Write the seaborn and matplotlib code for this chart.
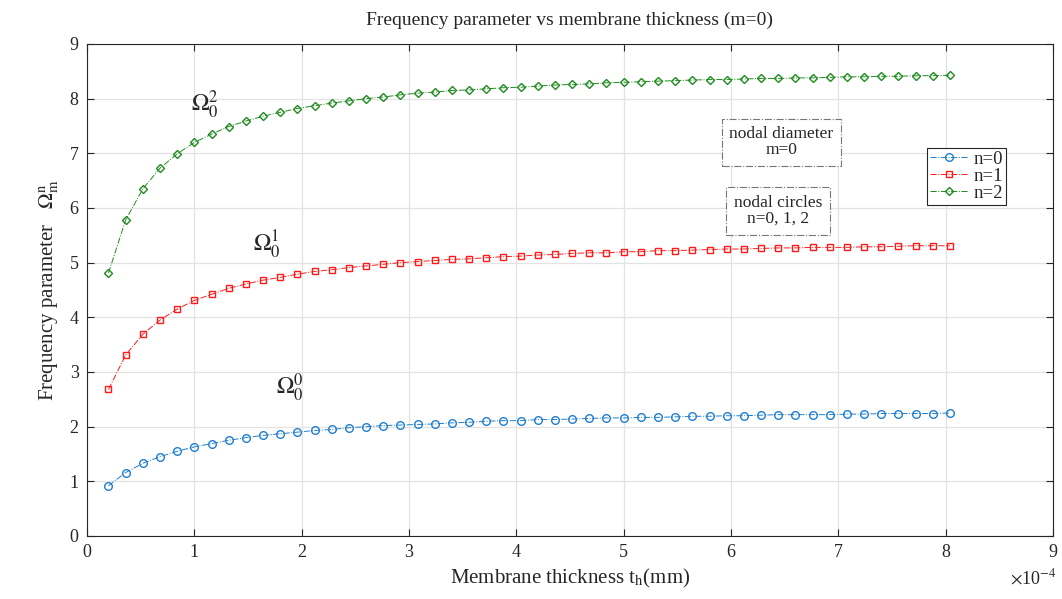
import numpy as np
import pandas as pd
import matplotlib
matplotlib.use("Agg")
import matplotlib.pyplot as plt
import seaborn as sns

# ---- data (thickness in units of 1e-4 mm) ----
thickness = [0.20, 0.36, 0.52, 0.68, 0.84, 1.00, 1.16, 1.32, 1.48, 1.64,
             1.80, 1.96, 2.12, 2.28, 2.44, 2.60, 2.76, 2.92, 3.08, 3.24,
             3.40, 3.56, 3.72, 3.88, 4.04, 4.20, 4.36, 4.52, 4.68, 4.84,
             5.00, 5.16, 5.32, 5.48, 5.64, 5.80, 5.96, 6.12, 6.28, 6.44,
             6.60, 6.76, 6.92, 7.08, 7.24, 7.40, 7.56, 7.72, 7.88, 8.04]

omega_n0 = [0.92, 1.16, 1.33, 1.45, 1.55, 1.63, 1.69, 1.75, 1.80, 1.84,
            1.87, 1.90, 1.93, 1.95, 1.98, 2.00, 2.02, 2.03, 2.04, 2.05,
            2.07, 2.08, 2.10, 2.11, 2.11, 2.13, 2.13, 2.14, 2.15, 2.16,
            2.16, 2.17, 2.17, 2.18, 2.19, 2.19, 2.20, 2.20, 2.21, 2.22,
            2.22, 2.22, 2.22, 2.23, 2.23, 2.24, 2.24, 2.24, 2.24, 2.25]

omega_n1 = [2.68, 3.31, 3.69, 3.95, 4.15, 4.31, 4.42, 4.53, 4.61, 4.68,
            4.73, 4.79, 4.84, 4.87, 4.91, 4.94, 4.97, 5.00, 5.02, 5.04,
            5.06, 5.07, 5.09, 5.11, 5.12, 5.14, 5.15, 5.17, 5.18, 5.18,
            5.20, 5.20, 5.22, 5.22, 5.23, 5.24, 5.25, 5.25, 5.26, 5.27,
            5.27, 5.28, 5.28, 5.28, 5.29, 5.29, 5.30, 5.31, 5.31, 5.31]

omega_n2 = [4.81, 5.78, 6.35, 6.73, 6.99, 7.20, 7.35, 7.49, 7.59, 7.68,
            7.75, 7.82, 7.87, 7.92, 7.96, 8.00, 8.03, 8.07, 8.10, 8.12,
            8.15, 8.16, 8.18, 8.20, 8.21, 8.23, 8.25, 8.26, 8.27, 8.29,
            8.30, 8.31, 8.32, 8.33, 8.34, 8.35, 8.35, 8.36, 8.37, 8.37,
            8.38, 8.38, 8.39, 8.40, 8.40, 8.41, 8.41, 8.42, 8.42, 8.43]

series_labels = ["n=0", "n=1", "n=2"]
x_ticks = [0, 1, 2, 3, 4, 5, 6, 7, 8, 9]
y_ticks = [0, 1, 2, 3, 4, 5, 6, 7, 8, 9]

sns.set_theme(style="white")
plt.rcParams['font.family'] = ['Liberation Serif', 'DejaVu Serif']
plt.rcParams['mathtext.fontset'] = 'stix'

fig = plt.figure(figsize=(10.62, 5.99), dpi=100)
ax = fig.add_axes([87/1062, 63/599, 966/1062, 492/599])

df = pd.DataFrame({
    "t": thickness * 3,
    "omega": omega_n0 + omega_n1 + omega_n2,
    "n": [series_labels[0]] * len(thickness) + [series_labels[1]] * len(thickness)
         + [series_labels[2]] * len(thickness),
})

colors = ["#1f7fcf", "#ff1a1a", "#1e8c1e"]
markers = ["o", "s", "D"]
msizes = [5.5, 4.5, 4.5]
for lab, col, mk, ms in zip(series_labels, colors, markers, msizes):
    sub = df[df["n"] == lab]
    sns.lineplot(data=sub, x="t", y="omega", ax=ax, color=col, linestyle="-.",
                 linewidth=0.7, marker=mk, markersize=ms, markerfacecolor="none",
                 markeredgecolor=col, markeredgewidth=1.0, label=lab,
                 errorbar=None, alpha=1.0)

ax.set_xlim(0, 9)
ax.set_ylim(0, 9)
ax.set_xticks(x_ticks)
ax.set_yticks(y_ticks)
ax.set_xticklabels([str(v) for v in x_ticks], fontsize=13)
ax.set_yticklabels([str(v) for v in y_ticks], fontsize=13)
ax.grid(True, color="#e3e3e3", linewidth=0.9)
ax.tick_params(direction="in", length=5, width=0.8, top=True, right=True,
               bottom=True, left=True, colors="#262626", pad=6)
for sp in ax.spines.values():
    sp.set_color("#262626")
    sp.set_linewidth(0.8)
    sp.set_visible(True)

ax.set_title("Frequency parameter vs membrane thickness (m=0)", fontsize=14, pad=14)
ax.set_xlabel("Membrane thickness t$_\\mathrm{h}$(mm)", fontsize=15, labelpad=4)
ax.set_ylabel("Frequency parameter   $\\Omega_\\mathrm{m}^\\mathrm{n}$", fontsize=15, labelpad=6)
fig.text(1056/1062, 1 - 578/599, "$\\times$10$^{-4}$", ha="right", va="center",
         fontsize=13)

ax.text(1.10, 7.88, "$\\Omega_0^2$", fontsize=17, ha="center", va="center")
ax.text(1.68, 5.32, "$\\Omega_0^1$", fontsize=17, ha="center", va="center")
ax.text(1.89, 2.70, "$\\Omega_0^0$", fontsize=17, ha="center", va="center")

box = dict(boxstyle="square,pad=0.45", facecolor="white", edgecolor="#777777",
           linestyle="-.", linewidth=0.8)
ax.text(6.47, 7.20, "nodal diameter\nm=0", fontsize=12.5, ha="center", va="center",
        bbox=box, linespacing=1.0)
ax.text(6.44, 5.95, "nodal circles\nn=0, 1, 2", fontsize=12.5, ha="center", va="center",
        bbox=box, linespacing=1.0)

leg = ax.legend(loc="upper left", bbox_to_anchor=(0.870, 0.789), fontsize=13.5,
                frameon=True, fancybox=False, edgecolor="#262626", framealpha=1,
                handlelength=2.0, handletextpad=0.3, borderpad=0.15, labelspacing=0.0,
                borderaxespad=0)
leg.get_frame().set_linewidth(0.8)

fig.savefig("out.png", dpi=100)
